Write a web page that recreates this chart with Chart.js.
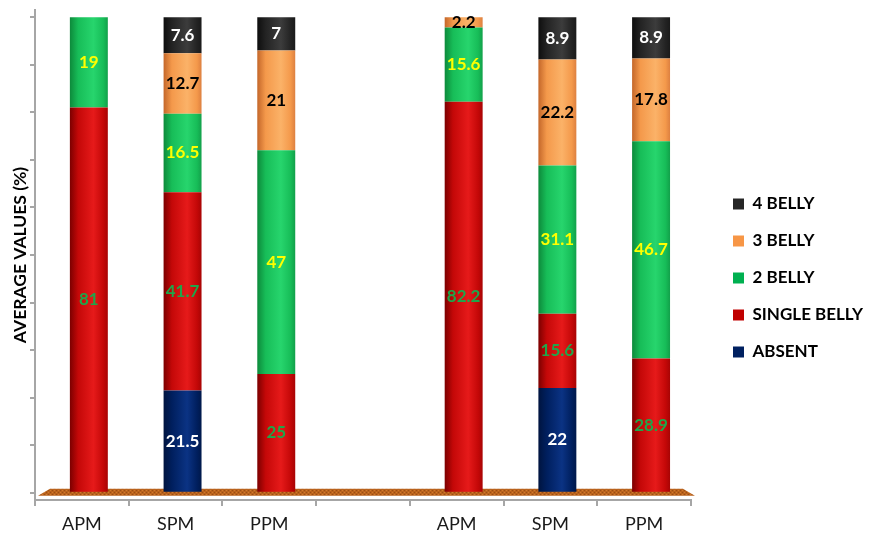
<!DOCTYPE html>
<html>
<head>
<meta charset="utf-8">
<script src="https://cdn.jsdelivr.net/npm/chart.js@4/dist/chart.umd.min.js"></script>
<style>
  html, body { margin: 0; padding: 0; background: #fff; }
  #wrap { width: 872px; height: 546px; position: relative; }
</style>
</head>
<body>
<div id="wrap"><canvas id="c" width="872" height="546"></canvas></div>
<script>
// Muscle belly pattern by group (percent of specimens)
const categories = ['APM', 'SPM', 'PPM', '', 'APM', 'SPM', 'PPM'];
const absent      = [0,    21.5, 0,    null, 0,    22,   0];
const singleBelly = [81,   41.7, 25,   null, 82.2, 15.6, 28.9];
const twoBelly    = [19,   16.5, 47,   null, 15.6, 31.1, 46.7];
const threeBelly  = [0,    12.7, 21,   null, 2.2,  22.2, 17.8];
const fourBelly   = [0,    7.6,  7,    null, 0,    8.9,  8.9];
const seriesNames = ['ABSENT', 'SINGLE BELLY', '2 BELLY', '3 BELLY', '4 BELLY'];
const yTickValues = [0, 10, 20, 30, 40, 50, 60, 70, 80, 90, 100];

const seriesData = [absent, singleBelly, twoBelly, threeBelly, fourBelly];

// each column is drawn as a 100% stack: shares of the column total
const columnTotals = categories.map((_, i) =>
  seriesData.reduce((s, arr) => s + (arr[i] || 0), 0));
const shareData = seriesData.map(arr => arr.map((v, i) =>
  v === null ? null : (columnTotals[i] ? v / columnTotals[i] * 100 : 0)));

// Solid swatch colours plus cylinder shading stops: [edge, body, highlight, rim]
const swatch = ['#002060', '#c00000', '#00b050', '#f79646', '#262626'];
const shades = [
  ['#00143f', '#001f5e', '#0b3384', '#00184a'],
  ['#7c0000', '#c40808', '#e61a1a', '#a80404'],
  ['#0d8a3b', '#17bd58', '#27d56d', '#12a04a'],
  ['#c4672a', '#f4994b', '#fbb268', '#dd8040'],
  ['#0e0e0e', '#232323', '#3c3c3c', '#1a1a1a']
];
const labelColors = ['#ffffff', '#1fa64a', '#ffff00', '#000000', '#ffffff'];
const BAR_FRACTION = 0.405;
const DEPTH_SHIFT = 7;   // columns sit slightly behind the category axis
const FONT = 'Lato, "Open Sans", sans-serif';

function cylinderFill(ctx, seriesIdx) {
  const chart = ctx.chart;
  const xs = chart.scales.xb;
  if (!xs || !chart.chartArea) return swatch[seriesIdx];
  const cx = xs.getPixelForValue(ctx.dataIndex);
  const w = (xs.right - xs.left) / categories.length * BAR_FRACTION;
  const g = chart.ctx.createLinearGradient(cx - w / 2, 0, cx + w / 2, 0);
  const s = shades[seriesIdx];
  g.addColorStop(0, s[0]);
  g.addColorStop(0.22, s[1]);
  g.addColorStop(0.62, s[2]);
  g.addColorStop(0.88, s[1]);
  g.addColorStop(1, s[3]);
  return g;
}

const datasets = shareData.map((vals, k) => ({
  label: seriesNames[k],
  data: vals,
  xAxisID: 'xb',
  backgroundColor: (ctx) => cylinderFill(ctx, k),
  borderWidth: 0,
  barPercentage: BAR_FRACTION,
  categoryPercentage: 1.0
}));

// shift the column axis for the depth effect and move the legend block right
const depthShift = {
  id: 'depthShift',
  afterLayout(chart) {
    const xb = chart.scales.xb;
    xb.left += DEPTH_SHIFT;
    xb.right += DEPTH_SHIFT;
    xb.configure();
    const lg = chart.legend;
    lg.left = 713;
    lg.right = chart.width;
    lg.width = lg.right - lg.left;
  }
};

// textured brown floor under the columns
const floorPlugin = {
  id: 'floor',
  beforeDatasetsDraw(chart) {
    const { ctx, chartArea, scales } = chart;
    const y0 = scales.y.getPixelForValue(0);
    const pc = document.createElement('canvas');
    pc.width = 4; pc.height = 4;
    const p = pc.getContext('2d');
    p.fillStyle = '#b9621c'; p.fillRect(0, 0, 4, 4);
    p.fillStyle = '#d07a2c'; p.fillRect(0, 0, 1, 1); p.fillRect(2, 2, 1, 1);
    p.fillStyle = '#9a4e14'; p.fillRect(2, 0, 1, 1); p.fillRect(0, 2, 1, 1);
    ctx.save();
    ctx.fillStyle = ctx.createPattern(pc, 'repeat');
    ctx.beginPath();
    ctx.moveTo(chartArea.left + 15, y0 - 4);
    ctx.lineTo(chartArea.right - 8, y0 - 4);
    ctx.lineTo(chartArea.right + 4, y0 + 3);
    ctx.lineTo(chartArea.left + 3, y0 + 3);
    ctx.closePath();
    ctx.fill();
    ctx.restore();
  }
};

// value labels centred in each segment
const valueLabels = {
  id: 'valueLabels',
  afterDatasetsDraw(chart) {
    const ctx = chart.ctx;
    ctx.save();
    ctx.font = 'bold 17px ' + FONT;
    ctx.textAlign = 'center';
    ctx.textBaseline = 'middle';
    chart.data.datasets.forEach((ds, d) => {
      const meta = chart.getDatasetMeta(d);
      meta.data.forEach((el, i) => {
        const v = seriesData[d][i];
        if (v === null || v === 0) return;
        ctx.fillStyle = labelColors[d];
        ctx.fillText(String(v), el.x, (el.y + el.base) / 2);
      });
    });
    ctx.restore();
  }
};

new Chart(document.getElementById('c'), {
  type: 'bar',
  data: { labels: categories, datasets },
  plugins: [depthShift, floorPlugin, valueLabels],
  options: {
    responsive: false,
    animation: false,
    layout: { padding: { top: 10, left: 0, right: 21, bottom: 0 } },
    plugins: {
      tooltip: { enabled: false },
      legend: {
        position: 'right',
        reverse: true,
        labels: {
          boxWidth: 11,
          boxHeight: 11,
          padding: 20,
          color: '#000',
          font: { family: FONT, size: 17, weight: 'bold' },
          generateLabels(chart) {
            const items = Chart.defaults.plugins.legend.labels.generateLabels(chart);
            items.forEach(it => {
              it.fillStyle = swatch[it.datasetIndex];
              it.strokeStyle = swatch[it.datasetIndex];
              it.lineWidth = 0;
            });
            return items;
          }
        }
      }
    },
    scales: {
      x: {
        offset: true,
        border: { color: '#a6a6a6', width: 2 },
        grid: { display: true, drawOnChartArea: false, offset: true, tickLength: 6, color: '#a6a6a6', lineWidth: 2 },
        ticks: { color: '#1a1a1a', padding: 7, font: { family: FONT, size: 18 } },
        afterFit(scale) { scale.height = 46; }
      },
      xb: {
        type: 'category',
        axis: 'x',
        position: 'bottom',
        display: false,
        stacked: true,
        offset: true,
        grid: { offset: true }
      },
      y: {
        stacked: true,
        min: -1.5,
        max: 101.5,
        border: { color: '#a6a6a6', width: 2 },
        grid: { display: true, drawOnChartArea: false, tickLength: 5, color: '#a6a6a6', lineWidth: 2 },
        ticks: { display: false },
        afterBuildTicks(scale) { scale.ticks = yTickValues.map(v => ({ value: v })); },
        title: {
          display: true,
          text: 'AVERAGE VALUES (%)',
          color: '#000',
          padding: { top: 10, bottom: 0 },
          font: { family: FONT, size: 17.5, weight: 'bold' }
        },
        afterFit(scale) { scale.width = 35; }
      }
    }
  }
});
</script>
</body>
</html>
